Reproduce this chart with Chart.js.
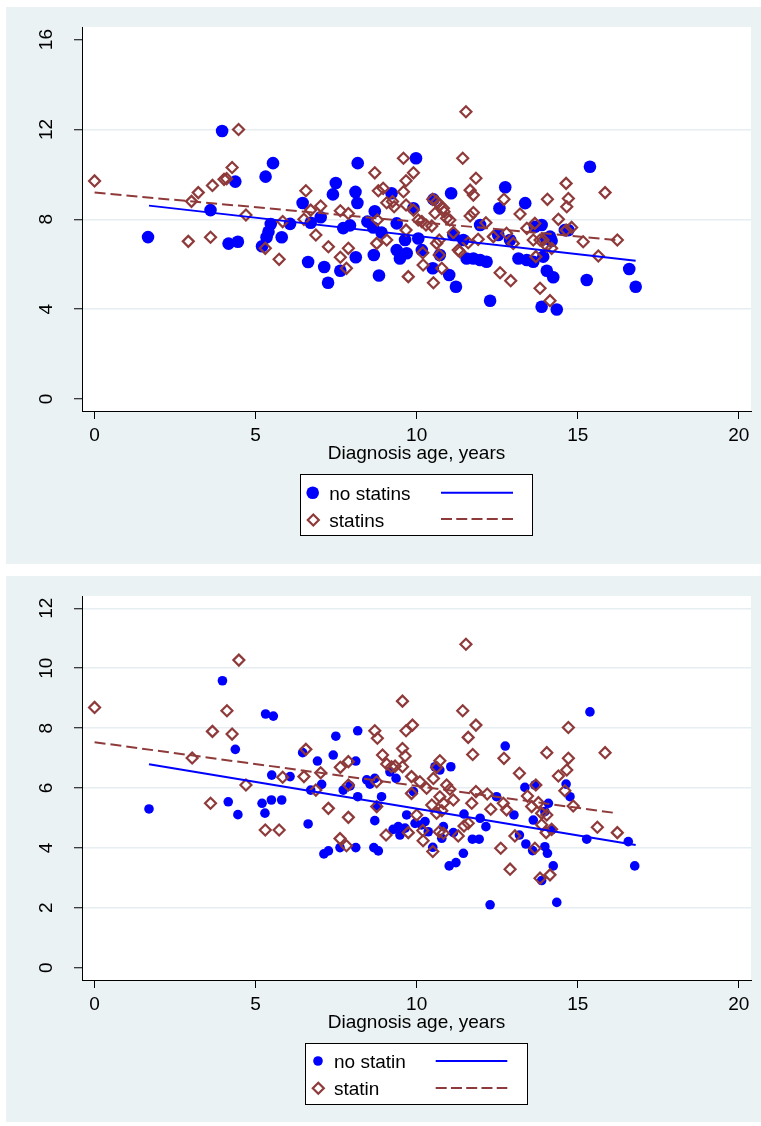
<!DOCTYPE html>
<html>
<head>
<meta charset="utf-8">
<script src="https://cdn.jsdelivr.net/npm/chart.js@4.4.1/dist/chart.umd.min.js"></script>
<style>
body { margin:0; background:#fff; width:761px; height:1126px; position:relative; overflow:hidden; font-family:"Liberation Sans", Arial, sans-serif; }
.panel { position:absolute; left:6px; width:755px; background:#eaf2f3; }
#panel1 { top:7px; height:557px; }
#panel2 { top:576px; height:546px; }
.panel canvas { position:absolute; left:0; top:0; }
#legends { position:absolute; left:0; top:0; }
</style>
</head>
<body>
<div class="panel" id="panel1"><canvas id="chart1" width="755" height="463"></canvas></div>
<div class="panel" id="panel2"><canvas id="chart2" width="755" height="463"></canvas></div>

<svg id="legends" width="761" height="1126" font-family="Liberation Sans, Arial, sans-serif" font-size="19">
  <rect x="300.5" y="474.5" width="232" height="61" fill="#fff" stroke="#000" stroke-width="1"/>
  <circle cx="312.7" cy="492.7" r="6.3" fill="#0000ff"/>
  <text x="329.3" y="500">no statins</text>
  <line x1="441" y1="492.7" x2="513" y2="492.7" stroke="#0000ff" stroke-width="2"/>
  <path d="M313.3 514.5 L318.8 520 L313.3 525.5 L307.8 520 Z" fill="none" stroke="#8f3a3a" stroke-width="2.2"/>
  <text x="329.3" y="527">statins</text>
  <line x1="441" y1="519" x2="513" y2="519" stroke="#8f3a3a" stroke-width="2" stroke-dasharray="11 4.25"/>

  <rect x="305.5" y="1043.5" width="222" height="61" fill="#fff" stroke="#000" stroke-width="1"/>
  <circle cx="318" cy="1061" r="4.8" fill="#0000ff"/>
  <text x="334" y="1068.3">no statin</text>
  <line x1="435.7" y1="1061" x2="507.3" y2="1061" stroke="#0000ff" stroke-width="2"/>
  <path d="M318.3 1082.8 L323.8 1088.3 L318.3 1093.8 L312.8 1088.3 Z" fill="none" stroke="#8f3a3a" stroke-width="2.2"/>
  <text x="334" y="1095">statin</text>
  <line x1="435.7" y1="1088" x2="507.3" y2="1088" stroke="#8f3a3a" stroke-width="2" stroke-dasharray="11 4.25"/>
</svg>

<script>
// top panel: [diagnosis age, value]
const noStatinsTop = [
  [1.66,7.21],[3.6,8.41],[3.96,11.93],[4.16,6.92],[4.37,9.68],[4.45,7.0],[5.2,6.8],[5.31,9.9],
  [5.34,7.2],[5.4,7.45],[5.47,7.79],[5.54,10.5],[5.81,7.2],[6.07,7.8],[6.46,8.73],[6.63,6.1],
  [6.71,7.85],[7.02,8.09],[7.13,5.88],[7.25,5.18],[7.4,9.11],[7.49,9.62],[7.63,5.71],[7.72,7.61],
  [7.93,7.73],[8.1,9.22],[8.11,6.31],[8.16,8.73],[8.17,10.5],[8.47,7.9],[8.65,7.64],[8.67,6.41],
  [8.7,8.36],[8.83,5.5],[8.91,7.41],[9.22,9.16],[9.38,7.82],[9.38,6.63],[9.48,6.26],[9.64,7.08],
  [9.69,6.49],[9.9,8.49],[9.98,10.72],[10.05,7.15],[10.16,6.63],[10.5,5.82],[10.52,8.89],[10.72,6.41],
  [11.01,5.52],[11.07,9.16],[11.14,7.3],[11.22,5.0],[11.45,7.08],[11.55,6.26],[11.76,6.26],[11.97,6.19],
  [11.97,7.75],[12.17,6.11],[12.28,4.38],[12.53,7.3],[12.57,8.49],[12.75,9.43],[12.9,7.08],[13.16,6.26],
  [13.37,8.72],[13.42,6.19],[13.62,6.11],[13.67,7.67],[13.88,7.75],[13.88,4.11],[13.93,6.34],[14.02,7.15],
  [14.04,5.71],[14.14,7.23],[14.19,7.05],[14.24,5.42],[14.35,3.99],[14.6,7.52],[14.71,7.52],[15.28,5.3],
  [15.38,10.34],[16.6,5.79],[16.8,5.0]
];
const statinsTop = [
  [0.0,9.71],[2.91,7.02],[3.01,8.8],[3.22,9.19],[3.6,7.2],[3.66,9.51],[4.02,9.78],[4.1,9.81],
  [4.27,10.31],[4.47,12.0],[4.7,8.19],[5.3,6.71],[5.73,6.22],[5.84,7.9],[6.5,8.0],[6.56,9.27],
  [6.71,8.41],[6.87,7.3],[7.02,8.59],[7.26,6.78],[7.63,8.38],[7.63,6.31],[7.82,5.82],[7.88,6.71],
  [7.88,8.26],[8.7,10.07],[8.76,6.93],[8.78,7.97],[8.81,9.27],[8.96,9.38],[9.07,8.74],[9.07,7.08],
  [9.25,8.79],[9.3,8.56],[9.59,10.72],[9.59,9.23],[9.67,9.72],[9.67,8.64],[9.67,7.52],[9.74,5.45],
  [9.9,10.07],[9.9,8.41],[10.05,7.97],[10.16,7.9],[10.19,6.51],[10.2,5.97],[10.29,7.75],[10.47,7.7],
  [10.5,8.89],[10.52,5.18],[10.57,8.27],[10.62,8.79],[10.62,6.93],[10.7,7.08],[10.7,6.41],[10.72,8.64],
  [10.78,5.82],[10.83,8.49],[10.85,8.34],[10.93,8.05],[11.03,7.97],[11.14,7.41],[11.29,6.63],[11.34,6.56],
  [11.43,10.72],[11.53,12.79],[11.6,6.96],[11.66,9.3],[11.66,8.15],[11.76,9.08],[11.76,8.3],[11.84,9.83],
  [11.91,7.11],[12.15,7.85],[12.38,7.23],[12.59,5.62],[12.71,8.89],[12.79,7.38],[12.92,5.27],[13.0,6.93],
  [13.21,8.24],[13.42,7.6],[13.62,7.08],[13.67,7.82],[13.7,6.34],[13.83,7.08],[13.83,4.93],[13.93,7.08],
  [14.04,6.81],[14.06,8.89],[14.14,4.38],[14.19,6.71],[14.4,8.0],[14.64,9.6],[14.64,7.52],[14.66,8.56],
  [14.71,8.93],[14.81,7.64],[15.17,7.0],[15.64,6.37],[15.85,9.19],[16.23,7.08]
];
const fitNoStatinsTop = [[1.69,8.61],[16.8,6.16]];
const fitStatinsTop = [[0.0,9.19],[16.21,7.08]];

// bottom panel
const noStatinBottom = [
  [1.69,5.3],[3.97,9.58],[4.15,5.54],[4.37,7.29],[4.45,5.11],[5.2,5.49],[5.29,5.16],[5.31,8.47],
  [5.49,5.6],[5.5,6.43],[5.55,8.4],[5.81,5.6],[6.07,6.38],[6.46,7.18],[6.63,4.8],[6.71,5.93],
  [6.92,6.9],[7.05,6.12],[7.12,3.8],[7.26,3.9],[7.41,7.1],[7.49,7.73],[7.62,4.01],[7.72,5.93],
  [7.93,6.07],[8.11,6.9],[8.11,4.01],[8.17,7.91],[8.17,5.71],[8.45,6.27],[8.55,6.13],[8.67,4.01],
  [8.7,6.32],[8.7,4.91],[8.78,5.4],[8.81,3.9],[8.91,5.71],[9.17,6.54],[9.27,4.62],[9.36,6.32],
  [9.43,4.71],[9.48,4.43],[9.64,4.66],[9.69,5.1],[9.9,5.88],[9.95,4.82],[10.15,4.77],[10.26,4.88],
  [10.36,4.54],[10.5,4.02],[10.57,6.71],[10.72,6.6],[10.78,4.32],[10.83,4.71],[11.01,3.4],[11.06,6.71],
  [11.14,4.51],[11.22,3.51],[11.45,3.82],[11.47,5.13],[11.73,4.29],[11.94,4.29],[11.97,4.99],[12.15,4.71],
  [12.28,2.1],[12.48,5.71],[12.75,7.4],[13.02,5.1],[13.19,4.43],[13.36,6.02],[13.39,4.13],[13.6,3.91],
  [13.62,4.93],[13.67,6.1],[13.98,4.04],[13.98,5.21],[14.06,3.82],[14.09,5.49],[14.19,4.6],[14.24,3.4],
  [13.88,2.91],[14.35,2.18],[14.64,6.13],[14.76,5.71],[15.28,4.29],[15.38,8.54],[16.57,4.21],[16.77,3.4]
];
const statinBottom = [
  [0.0,8.69],[3.03,7.0],[3.6,5.49],[3.66,7.89],[4.11,8.58],[4.27,7.8],[4.48,10.27],[4.7,6.1],
  [5.3,4.6],[5.73,4.6],[5.84,6.36],[6.5,6.38],[6.56,7.29],[6.87,5.93],[7.02,6.51],[7.26,5.32],
  [7.62,4.31],[7.63,6.69],[7.82,4.07],[7.88,6.88],[7.88,6.1],[7.88,5.02],[8.7,7.91],[8.76,6.21],
  [8.76,5.38],[8.78,7.66],[8.94,7.1],[9.05,4.43],[9.07,6.8],[9.22,6.71],[9.33,6.73],[9.56,8.9],
  [9.56,7.32],[9.56,6.71],[9.64,7.07],[9.67,7.91],[9.74,4.51],[9.84,6.38],[9.84,5.82],[9.87,8.1],
  [10.0,5.1],[10.1,6.21],[10.19,4.58],[10.2,4.24],[10.31,5.99],[10.47,5.43],[10.5,3.88],[10.52,6.32],
  [10.62,6.69],[10.62,5.16],[10.7,4.54],[10.72,6.91],[10.72,5.71],[10.78,5.24],[10.83,5.49],[10.83,4.49],
  [10.93,6.1],[11.03,5.96],[11.14,5.6],[11.29,4.4],[11.43,8.58],[11.47,4.73],[11.53,10.8],[11.6,7.69],
  [11.6,4.82],[11.71,5.49],[11.74,7.12],[11.84,8.1],[11.84,5.88],[12.19,5.8],[12.3,5.29],[12.61,3.99],
  [12.69,5.49],[12.71,6.99],[12.79,5.27],[12.9,3.29],[13.05,4.4],[13.19,6.49],[13.44,5.73],[13.57,5.38],
  [13.67,3.99],[13.7,6.1],[13.78,5.51],[13.83,2.99],[13.88,5.16],[13.88,4.77],[14.02,4.51],[14.04,7.18],
  [14.04,5.1],[14.14,3.1],[14.19,4.62],[14.4,6.4],[14.6,5.91],[14.66,6.6],[14.71,6.99],[14.71,8.02],
  [14.86,5.4],[15.61,4.69],[15.85,7.18],[16.23,4.51]
];
const fitNoStatinBottom = [[1.69,6.79],[16.8,4.1]];
const fitStatinBottom = [[0.0,7.53],[16.21,5.16]];

const xTicks = [0, 5, 10, 15, 20];
const yTicksTop = [0, 4, 8, 12, 16];
const yTicksBottom = [0, 2, 4, 6, 8, 10, 12];
const gridTop = [4, 8, 12];
const gridBottom = [2, 4, 6, 8, 10, 12];
const xTitle = "Diagnosis age, years";

const BLUE = '#0000ff';
const RED = '#8f3a3a';
const FONT = '"Liberation Sans", Arial, sans-serif';

Chart.defaults.font.family = FONT;
Chart.defaults.font.size = 19;
Chart.defaults.color = '#000';

const toPts = arr => arr.map(p => ({x: p[0], y: p[1]}));

// white plot region
const plotRegion = {
  id: 'plotRegion',
  beforeDraw(chart) {
    const a = chart.chartArea;
    chart.ctx.save();
    chart.ctx.fillStyle = '#fff';
    chart.ctx.fillRect(a.left, a.top, a.right - a.left, a.bottom - a.top);
    chart.ctx.restore();
  }
};

// y tick labels turned 90 degrees like the original
const rotatedYLabels = {
  id: 'rotatedYLabels',
  afterDraw(chart) {
    const y = chart.scales.y;
    const ctx = chart.ctx;
    ctx.save();
    ctx.fillStyle = '#000';
    ctx.font = '19px ' + FONT;
    ctx.textAlign = 'center';
    ctx.textBaseline = 'alphabetic';
    y.ticks.forEach((t, i) => {
      ctx.save();
      ctx.translate(y.right - 30, y.getPixelForTick(i));
      ctx.rotate(-Math.PI / 2);
      ctx.fillText(String(t.value), 0, 0);
      ctx.restore();
    });
    ctx.restore();
  }
};

function make_chart(canvasId, cfg) {
  return new Chart(document.getElementById(canvasId), {
    type: 'scatter',
    data: {
      datasets: [
        {
          data: toPts(cfg.noPts),
          pointStyle: 'circle',
          pointRadius: cfg.dotR,
          backgroundColor: BLUE,
          borderWidth: 0,
          order: 4
        },
        {
          data: toPts(cfg.yesPts),
          pointStyle: 'rectRot',
          pointRadius: 5.5,
          backgroundColor: 'rgba(0,0,0,0)',
          borderColor: RED,
          borderWidth: 2.2,
          order: 3
        },
        {
          data: toPts(cfg.noFit),
          showLine: true,
          pointRadius: 0,
          borderColor: BLUE,
          borderWidth: 2,
          order: 2
        },
        {
          data: toPts(cfg.yesFit),
          showLine: true,
          pointRadius: 0,
          borderColor: RED,
          borderWidth: 2,
          borderDash: [11, 5],
          order: 1
        }
      ]
    },
    options: {
      responsive: false,
      animation: false,
      events: [],
      layout: { padding: { top: 20, right: 10, left: 0, bottom: 0 } },
      plugins: { legend: { display: false }, tooltip: { enabled: false } },
      scales: {
        x: {
          type: 'linear',
          min: -0.39,
          max: 20.38,
          afterBuildTicks: s => { s.ticks = xTicks.map(v => ({value: v})); },
          afterFit: s => { s.height = 59; },
          ticks: { padding: 5, maxRotation: 0, autoSkip: false, font: { size: 19 } },
          grid: { color: 'rgba(0,0,0,0)', tickColor: '#000', tickLength: 8, tickWidth: 1 },
          border: { display: true, color: '#000', width: 1 },
          title: { display: true, text: xTitle, font: { size: 19 }, padding: { top: 0, bottom: cfg.titlePad } }
        },
        y: {
          type: 'linear',
          min: cfg.yMin,
          max: cfg.yMax,
          afterBuildTicks: s => { s.ticks = cfg.yTicks.map(v => ({value: v})); },
          afterFit: s => { s.width = 76; },
          ticks: { display: false },
          grid: {
            color: c => (c.tick && cfg.grid.includes(c.tick.value)) ? '#e6eef1' : 'rgba(0,0,0,0)',
            lineWidth: 1.5,
            tickColor: '#000',
            tickLength: 8,
            tickWidth: 1
          },
          border: { display: true, color: '#000', width: 1 }
        }
      }
    },
    plugins: [plotRegion, rotatedYLabels]
  });
}

make_chart('chart1', {
  noPts: noStatinsTop, yesPts: statinsTop,
  noFit: fitNoStatinsTop, yesFit: fitStatinsTop,
  dotR: 6.3, yMin: -0.53, yMax: 16.56,
  yTicks: yTicksTop, grid: gridTop, titlePad: 5
});

make_chart('chart2', {
  noPts: noStatinBottom, yesPts: statinBottom,
  noFit: fitNoStatinBottom, yesFit: fitStatinBottom,
  dotR: 4.8, yMin: -0.41, yMax: 12.41,
  yTicks: yTicksBottom, grid: gridBottom, titlePad: 5
});
</script>
</body>
</html>
